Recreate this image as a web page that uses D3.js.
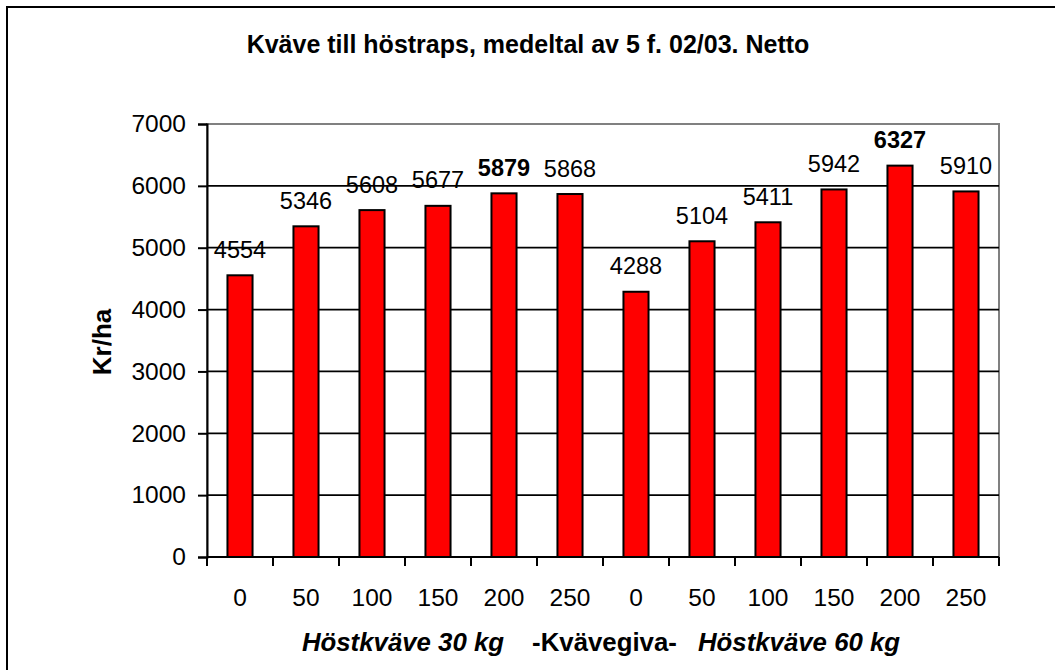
<!DOCTYPE html>
<html>
<head>
<meta charset="utf-8">
<script src="https://cdn.jsdelivr.net/npm/d3@7"></script>
<style>
  html, body { margin: 0; padding: 0; background: #fff; }
  svg { display: block; font-family: "Liberation Sans", Arial, sans-serif; }
</style>
</head>
<body>
<svg id="chart" width="1055" height="670"></svg>
<script>
// ---- data ----
const groups = ["Höstkväve 30 kg", "Höstkväve 60 kg"];
const doses = ["0", "50", "100", "150", "200", "250"];
const values30 = [4554, 5346, 5608, 5677, 5879, 5868];
const values60 = [4288, 5104, 5411, 5942, 6327, 5910];
const yTicks = [0, 1000, 2000, 3000, 4000, 5000, 6000, 7000];
const title = "Kväve till höstraps, medeltal av 5 f. 02/03. Netto";
const yTitle = "Kr/ha";
const xTitleMiddle = "-Kvävegiva-";

// build rows
const rows = [];
[values30, values60].forEach((vals, g) => {
  const mx = d3.max(vals);
  vals.forEach((v, i) => rows.push({ key: g + "-" + doses[i], label: doses[i], value: v, best: v === mx }));
});

const svg = d3.select("#chart");
const plot = { left: 207, right: 999, top: 124, bottom: 557 };

// outer frame
svg.append("rect").attr("x", 7).attr("y", 7).attr("width", 1100).attr("height", 700)
  .attr("fill", "none").attr("stroke", "#000").attr("stroke-width", 2);

const x = d3.scaleBand().domain(rows.map(d => d.key)).range([plot.left, plot.right])
  .paddingInner(0.62).paddingOuter(0.31);
const xb = d3.scaleBand().domain(rows.map(d => d.key)).range([plot.left, plot.right]).padding(0);
const y = d3.scaleLinear().domain([0, 7000]).range([plot.bottom, plot.top]);

// plot border (gray)
svg.append("rect").attr("x", plot.left).attr("y", plot.top)
  .attr("width", plot.right - plot.left).attr("height", plot.bottom - plot.top)
  .attr("fill", "none").attr("stroke", "#808080").attr("stroke-width", 2);

// gridlines
svg.append("g").selectAll("line").data(yTicks.filter(t => t > 0 && t < 7000)).join("line")
  .attr("x1", plot.left).attr("x2", plot.right)
  .attr("y1", d => y(d)).attr("y2", d => y(d))
  .attr("stroke", "#000").attr("stroke-width", 1.8);

// bars
svg.append("g").selectAll("rect").data(rows).join("rect")
  .attr("x", d => x(d.key)).attr("width", x.bandwidth())
  .attr("y", d => y(d.value)).attr("height", d => y(0) - y(d.value))
  .attr("fill", "#ff0000").attr("stroke", "#000").attr("stroke-width", 2);

// data labels
svg.append("g").selectAll("text").data(rows).join("text")
  .attr("x", d => x(d.key) + x.bandwidth() / 2)
  .attr("y", d => y(d.value) - 17.5)
  .attr("text-anchor", "middle")
  .attr("font-size", 23.5)
  .attr("font-weight", d => d.best ? "bold" : "normal")
  .attr("fill", "#000")
  .text(d => d.value);

// y axis
const yAxis = d3.axisLeft(y).tickValues(yTicks).tickSize(9).tickPadding(12).tickFormat(d3.format("d"));
const gy = svg.append("g").attr("transform", `translate(${plot.left},0)`).call(yAxis);
gy.select(".domain").attr("stroke", "#000").attr("stroke-width", 2);
gy.selectAll(".tick line").attr("stroke", "#000").attr("stroke-width", 2);
gy.selectAll(".tick text").attr("font-size", 24.5).attr("fill", "#000")
  .attr("font-family", "Liberation Sans, Arial, sans-serif");

// x axis: ticks at band boundaries
const gx = svg.append("g").attr("transform", `translate(0,${plot.bottom})`);
gx.append("line").attr("x1", plot.left).attr("x2", plot.right).attr("stroke", "#000").attr("stroke-width", 2);
const bounds = rows.map(d => xb(d.key)).concat([plot.right]);
gx.selectAll("line.tk").data(bounds).join("line").attr("class", "tk")
  .attr("x1", d => d).attr("x2", d => d).attr("y1", 0).attr("y2", 9)
  .attr("stroke", "#000").attr("stroke-width", 2);
gx.selectAll("text").data(rows).join("text")
  .attr("x", d => xb(d.key) + xb.bandwidth() / 2).attr("y", 49)
  .attr("text-anchor", "middle").attr("font-size", 24.5).attr("fill", "#000")
  .text(d => d.label);

// titles
svg.append("text").attr("x", 528).attr("y", 53).attr("text-anchor", "middle")
  .attr("font-size", 25).attr("font-weight", "bold").text(title);

svg.append("text").attr("transform", "translate(111,342) rotate(-90)")
  .attr("text-anchor", "middle").attr("font-size", 26).attr("font-weight", "bold").text(yTitle);

const xt = svg.append("text").attr("x", (plot.left + plot.right) / 2 - 2).attr("y", 651)
  .attr("text-anchor", "middle").attr("font-size", 25.8).attr("font-weight", "bold");
xt.append("tspan").attr("font-style", "italic").text(groups[0]);
xt.append("tspan").attr("dx", 28).text(xTitleMiddle);
xt.append("tspan").attr("dx", 21).attr("font-style", "italic").text(groups[1]);
</script>
</body>
</html>
